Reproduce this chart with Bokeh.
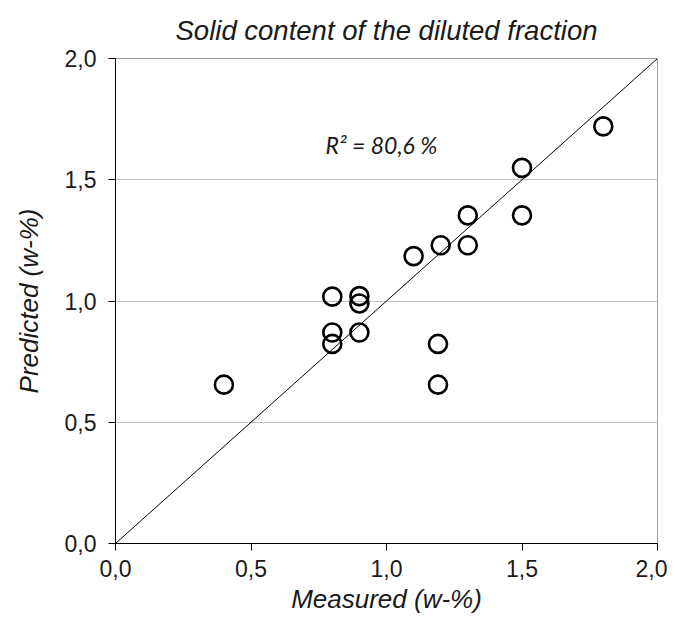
from bokeh.plotting import figure
from bokeh.models import Range1d, FixedTicker, CustomJSTickFormatter, Label
from bokeh.embed import file_html
from bokeh.resources import INLINE

measured = [0.40, 0.80, 0.80, 0.80, 0.90, 0.90, 0.90, 1.10, 1.20, 1.30, 1.30, 1.50, 1.50, 1.80, 1.19, 1.19]
predicted = [0.655, 1.018, 0.870, 0.823, 1.020, 0.990, 0.870, 1.185, 1.230, 1.353, 1.230, 1.549, 1.353, 1.720, 0.823, 0.655]
line_x = [0.0, 2.0]
line_y = [0.0, 2.0]
ticks = [0.0, 0.5, 1.0, 1.5, 2.0]
title_text = "Solid content of the diluted fraction"
x_label = "Measured (w-%)"
y_label = "Predicted (w-%)"
r2_text = "R\u00b2 = 80,6 %"

p = figure(width=667, height=629, output_backend="svg", toolbar_location=None,
           x_range=Range1d(0, 2), y_range=Range1d(0, 2),
           min_border_left=115, min_border_right=10, min_border_top=58, min_border_bottom=86,
           title=title_text)

p.title.align = "center"
p.title.text_font = "Liberation Sans"
p.title.text_font_style = "italic"
p.title.text_font_size = "27.5px"
p.title.text_color = "#1a1a1a"
p.title.standoff = 25

fmt = CustomJSTickFormatter(code="return tick.toFixed(1).replace('.', ',');")
for ax in (p.xaxis[0], p.yaxis[0]):
    ax.ticker = FixedTicker(ticks=ticks)
    ax.formatter = fmt
    ax.major_label_text_font = "Liberation Sans"
    ax.major_label_text_font_size = "23px"
    ax.major_label_text_color = "#1a1a1a"
    ax.axis_label_text_font = "Liberation Sans"
    ax.axis_label_text_font_style = "italic"
    ax.axis_label_text_font_size = "26px"
    ax.axis_label_text_color = "#1a1a1a"
    ax.axis_line_color = "black"
    ax.axis_line_width = 1
    ax.major_tick_line_color = "black"
    ax.major_tick_out = 7
    ax.major_tick_in = 0
    ax.minor_tick_line_color = None

p.xaxis.major_label_standoff = 9
p.yaxis.major_label_standoff = 12
p.xaxis.axis_label = x_label
p.yaxis.axis_label = y_label
p.xaxis.axis_label_standoff = 4
p.yaxis.axis_label_standoff = 18

p.xgrid.grid_line_color = None
p.ygrid.grid_line_color = "#c0c0c0"
p.ygrid.grid_line_width = 1
p.outline_line_color = "#a0a0a0"
p.outline_line_width = 1

p.line(line_x, line_y, line_color="black", line_width=1)
p.scatter(measured, predicted, marker="circle", size=18, fill_color=None,
          line_color="black", line_width=2.6)

p.add_layout(Label(x=0.775, y=1.645, text=r2_text, text_font="Lato",
                   text_font_style="italic", text_font_size="23px",
                   text_color="#1a1a1a", text_baseline="middle", text_align="left"))

open("out.html", "w").write(file_html(p, INLINE))
